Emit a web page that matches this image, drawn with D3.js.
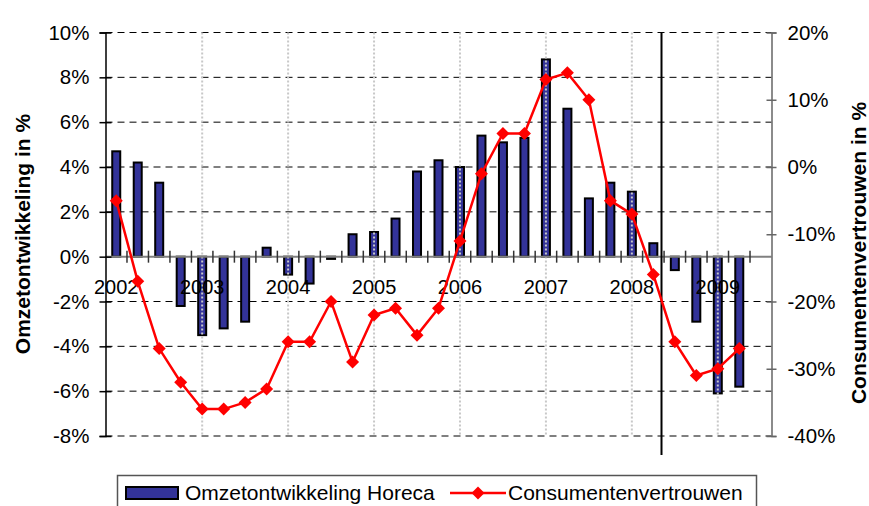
<!DOCTYPE html>
<html>
<head>
<meta charset="utf-8">
<script src="https://cdn.jsdelivr.net/npm/d3@7"></script>
<style>
  body { margin: 0; background: #fff; }
  svg text { font-family: Arial, "Liberation Sans", sans-serif; }
</style>
</head>
<body>
<div id="chart"></div>
<script>
// kwartalen 2002 K1 t/m 2009 K3 (+ een lege plek aan het eind)
var quarters = [
  "2002K1","2002K2","2002K3","2002K4","2003K1","2003K2","2003K3","2003K4",
  "2004K1","2004K2","2004K3","2004K4","2005K1","2005K2","2005K3","2005K4",
  "2006K1","2006K2","2006K3","2006K4","2007K1","2007K2","2007K3","2007K4",
  "2008K1","2008K2","2008K3","2008K4","2009K1","2009K2","2009K3"
]
// omzetontwikkeling horeca (%), linker as
var omzet = [4.7,4.2,3.3,-2.2,-3.5,-3.2,-2.9,0.4,-0.8,-1.2,-0.1,1.0,1.1,1.7,3.8,4.3,
             4.0,5.4,5.1,5.3,8.8,6.6,2.6,3.3,2.9,0.6,-0.6,-2.9,-6.1,-5.8]
// consumentenvertrouwen (%), rechter as
var vertrouwen = [-5,-17,-27,-32,-36,-36,-35,-33,-26,-26,-20,-29,-22,-21,-25,-21,
                  -11,-1,5,5,13,14,10,-5,-7,-16,-26,-31,-30,-27]
var years = ["2002","2003","2004","2005","2006","2007","2008","2009"]
var leftTicks = [-8,-6,-4,-2,0,2,4,6,8,10]
var rightTicks = [-40,-30,-20,-10,0,10,20]

var width = 869, height = 506
var svg = d3.select("#chart").append("svg")
    .attr("width", width)
    .attr("height", height)

var x = d3.scaleBand().domain(quarters).range([105.5, 771.5])
var y = d3.scaleLinear().domain([-8, 10]).range([436, 32.5])
var y2 = d3.scaleLinear().domain([-40, 20]).range([436, 32.5])
var fmt = function(d){ return d + "%" }

// horizontale stippellijnen
svg.append("g").selectAll("line")
    .data(leftTicks.filter(function(d){ return d != 0 }))
    .enter().append("line")
    .attr("x1", 105.5).attr("x2", 771.5)
    .attr("y1", function(d){ return y(d) }).attr("y2", function(d){ return y(d) })
    .attr("stroke", "#000").attr("stroke-width", 1)
    .attr("stroke-dasharray", "7,5")

// staven
svg.append("g").selectAll("rect")
    .data(omzet)
    .enter().append("rect")
    .attr("x", function(d,i){ return x(quarters[i]) + x.bandwidth()/2 - 4 })
    .attr("width", 8)
    .attr("y", function(d){ return Math.min(y(d), y(0)) })
    .attr("height", function(d){ return Math.max(Math.abs(y(d) - y(0)), 1.5) })
    .attr("fill", "#333399")
    .attr("stroke", "#000")
    .attr("stroke-width", 2)

// verticale jaar-lijnen (grijs gestippeld)
svg.append("g").selectAll("line")
    .data(years.slice(1))
    .enter().append("line")
    .attr("x1", function(d){ return x(d + "K1") + x.bandwidth()/2 })
    .attr("x2", function(d){ return x(d + "K1") + x.bandwidth()/2 })
    .attr("y1", 32.5).attr("y2", 436)
    .attr("stroke", "#c8c8c8").attr("stroke-width", 2)
    .attr("stroke-dasharray", "2,2")

// nul-lijn met kwartaalstreepjes
svg.append("line")
    .attr("x1", 105.5).attr("x2", 771.5)
    .attr("y1", y(0)).attr("y2", y(0))
    .attr("stroke", "#808080").attr("stroke-width", 2)
svg.append("g").selectAll("line")
    .data(quarters.slice(1))
    .enter().append("line")
    .attr("x1", function(d){ return x(d) }).attr("x2", function(d){ return x(d) })
    .attr("y1", y(0) - 6).attr("y2", y(0) + 6)
    .attr("stroke", "#333").attr("stroke-width", 1.5)

// jaartallen
svg.append("g").selectAll("text")
    .data(years)
    .enter().append("text")
    .attr("x", function(d){ return x(d + "K1") + x.bandwidth()/2 })
    .attr("y", 294)
    .attr("text-anchor", "middle")
    .style("font-size", "20px")
    .text(function(d){ return d })

// linker as
var left = svg.append("g").attr("transform", "translate(105.5,0)")
left.call(d3.axisLeft(y).tickValues(leftTicks).tickFormat(fmt).tickSize(6).tickPadding(10))
left.select(".domain").attr("stroke", "#000").attr("stroke-width", 1.5)
left.selectAll(".tick line").attr("x2", 6).attr("x1", -6).attr("stroke-width", 1.5)
left.selectAll("text").style("font-size", "20.5px").attr("font-family", null).attr("x", -16)

// rechter as
var right = svg.append("g").attr("transform", "translate(771.5,0)")
right.call(d3.axisRight(y2).tickValues(rightTicks).tickFormat(fmt).tickSize(5).tickPadding(10))
right.select(".domain").attr("stroke", "#666").attr("stroke-width", 1.5)
right.selectAll(".tick line").attr("x1", -5).attr("stroke", "#666").attr("stroke-width", 1.5)
right.selectAll("text").style("font-size", "20.5px").attr("font-family", null).attr("x", 16)

// scheidingslijn
svg.append("line")
    .attr("x1", 661.5).attr("x2", 661.5)
    .attr("y1", 32.5).attr("y2", 455)
    .attr("stroke", "#000").attr("stroke-width", 2)

// lijn consumentenvertrouwen
var line = d3.line()
    .x(function(d,i){ return x(quarters[i]) + x.bandwidth()/2 })
    .y(function(d){ return y2(d) })
svg.append("path")
    .datum(vertrouwen)
    .attr("d", line)
    .attr("fill", "none")
    .attr("stroke", "#ff0000")
    .attr("stroke-width", 2.5)
var diamond = "M0,-6.5L6.5,0L0,6.5L-6.5,0Z"
svg.append("g").selectAll("path")
    .data(vertrouwen)
    .enter().append("path")
    .attr("d", diamond)
    .attr("transform", function(d,i){ return "translate(" + (x(quarters[i]) + x.bandwidth()/2) + "," + y2(d) + ")" })
    .attr("fill", "#ff0000")

// astitels
svg.append("text")
    .attr("transform", "translate(30,234) rotate(-90)")
    .attr("text-anchor", "middle")
    .style("font-size", "21px").style("font-weight", "bold")
    .text("Omzetontwikkeling in %")
svg.append("text")
    .attr("transform", "translate(866,253) rotate(-90)")
    .attr("text-anchor", "middle")
    .style("font-size", "21px").style("font-weight", "bold")
    .text("Consumentenvertrouwen in %")

// legenda
var lg = svg.append("g")
lg.append("rect")
    .attr("x", 117.5).attr("y", 475.5).attr("width", 639).attr("height", 40)
    .attr("fill", "#fff").attr("stroke", "#555").attr("stroke-width", 1.5)
lg.append("rect")
    .attr("x", 126).attr("y", 487).attr("width", 52).attr("height", 12)
    .attr("fill", "#333399").attr("stroke", "#000").attr("stroke-width", 2)
lg.append("text")
    .attr("x", 185).attr("y", 499.5)
    .style("font-size", "21px")
    .text("Omzetontwikkeling Horeca")
lg.append("line")
    .attr("x1", 450).attr("x2", 506).attr("y1", 493).attr("y2", 493)
    .attr("stroke", "#ff0000").attr("stroke-width", 2.5)
lg.append("path")
    .attr("d", diamond)
    .attr("transform", "translate(478,493)")
    .attr("fill", "#ff0000")
lg.append("text")
    .attr("x", 508).attr("y", 499.5)
    .style("font-size", "21px")
    .text("Consumentenvertrouwen")
</script>
</body>
</html>
